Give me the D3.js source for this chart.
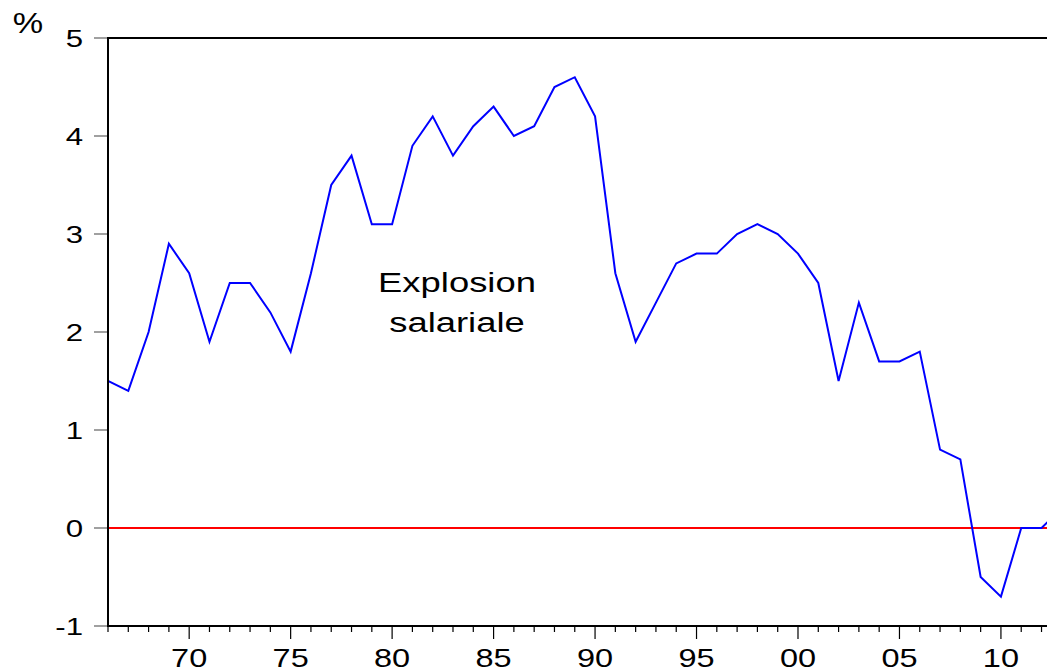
<!DOCTYPE html>
<html><head><meta charset="utf-8">
<script src="https://cdn.jsdelivr.net/npm/d3@7"></script>
<style>body{margin:0;background:#fff;}svg{display:block;font-family:"Liberation Sans",Arial,sans-serif;}</style>
</head><body>
<script>
const years = [1966,1967,1968,1969,1970,1971,1972,1973,1974,1975,1976,1977,1978,1979,1980,1981,1982,1983,1984,1985,1986,1987,1988,1989,1990,1991,1992,1993,1994,1995,1996,1997,1998,1999,2000,2001,2002,2003,2004,2005,2006,2007,2008,2009,2010,2011,2012,2013];
const values = [1.5,1.4,2.0,2.9,2.6,1.9,2.5,2.5,2.2,1.8,2.6,3.5,3.8,3.1,3.1,3.9,4.2,3.8,4.1,4.3,4.0,4.1,4.5,4.6,4.2,2.6,1.9,2.3,2.7,2.8,2.8,3.0,3.1,3.0,2.8,2.5,1.5,2.3,1.7,1.7,1.8,0.8,0.7,-0.5,-0.7,0.0,0.0,0.2];
const yTicks = [-1,0,1,2,3,4,5];
const xMajor = [1970,1975,1980,1985,1990,1995,2000,2005,2010];
const xLabels = ["70","75","80","85","90","95","00","05","10"];
const annotation = ["Explosion","salariale"];

const W=1047,H=672;
const L=108,T=38,R=1047,B=626;
const SX=1.3;
const svg=d3.select("body").append("svg").attr("width",W).attr("height",H);
const x=d3.scaleLinear().domain([1966,2012.27]).range([L,R]);
const y=d3.scaleLinear().domain([-1,5]).range([B,T]);

svg.append("clipPath").attr("id","c").append("rect").attr("x",L).attr("y",T-2).attr("width",R-L).attr("height",B-T+4);

// zero line
svg.append("line").attr("x1",L).attr("x2",R).attr("y1",y(0)).attr("y2",y(0)).attr("stroke","#ff0000").attr("stroke-width",2);

// data line
const data=years.map((d,i)=>({x:d,y:values[i]}));
svg.append("path").datum(data).attr("clip-path","url(#c)")
  .attr("d",d3.line().x(d=>x(d.x)).y(d=>y(d.y)))
  .attr("fill","none").attr("stroke","#0000ff").attr("stroke-width",2).attr("stroke-linejoin","miter");

// y axis ticks
const yg=svg.append("g");
yg.selectAll("line").data(yTicks).join("line")
  .attr("x1",94).attr("x2",L).attr("y1",d=>y(d)).attr("y2",d=>y(d))
  .attr("stroke","#808080").attr("stroke-width",1.5);
yg.selectAll("text").data(yTicks).join("text")
  .attr("transform",d=>`translate(83,${y(d)}) scale(${SX},1)`)
  .attr("text-anchor","end").attr("dy","0.36em").attr("font-size",24).attr("fill","#000")
  .text(d=>d);

// x axis ticks
const xg=svg.append("g");
const allYears=d3.range(1966,2013);
xg.selectAll("line").data(allYears).join("line")
  .attr("x1",d=>x(d)).attr("x2",d=>x(d)).attr("y1",B)
  .attr("y2",d=>d%5===0?B+13:B+6)
  .attr("stroke","#000").attr("stroke-width",1.2);
xg.selectAll("text").data(xMajor).join("text")
  .attr("transform",d=>`translate(${x(d)},667) scale(${SX},1)`)
  .attr("text-anchor","middle").attr("font-size",25).attr("fill","#000")
  .text((d,i)=>xLabels[i]);

// frame
svg.append("line").attr("x1",L).attr("x2",R).attr("y1",T).attr("y2",T).attr("stroke","#000").attr("stroke-width",2);
svg.append("line").attr("x1",L).attr("x2",L).attr("y1",T-1).attr("y2",B+1).attr("stroke","#000").attr("stroke-width",2);
svg.append("line").attr("x1",L-1).attr("x2",R).attr("y1",B).attr("y2",B).attr("stroke","#000").attr("stroke-width",2);

// % label
svg.append("text").attr("transform",`translate(28,33) scale(1.18,1)`).attr("text-anchor","middle")
  .attr("font-size",29).text("%");

// annotation
svg.append("g").selectAll("text").data(annotation).join("text")
  .attr("transform",(d,i)=>`translate(457,${292+i*40}) scale(${SX},1)`)
  .attr("text-anchor","middle").attr("font-size",28).text(d=>d);
</script>
</body></html>
